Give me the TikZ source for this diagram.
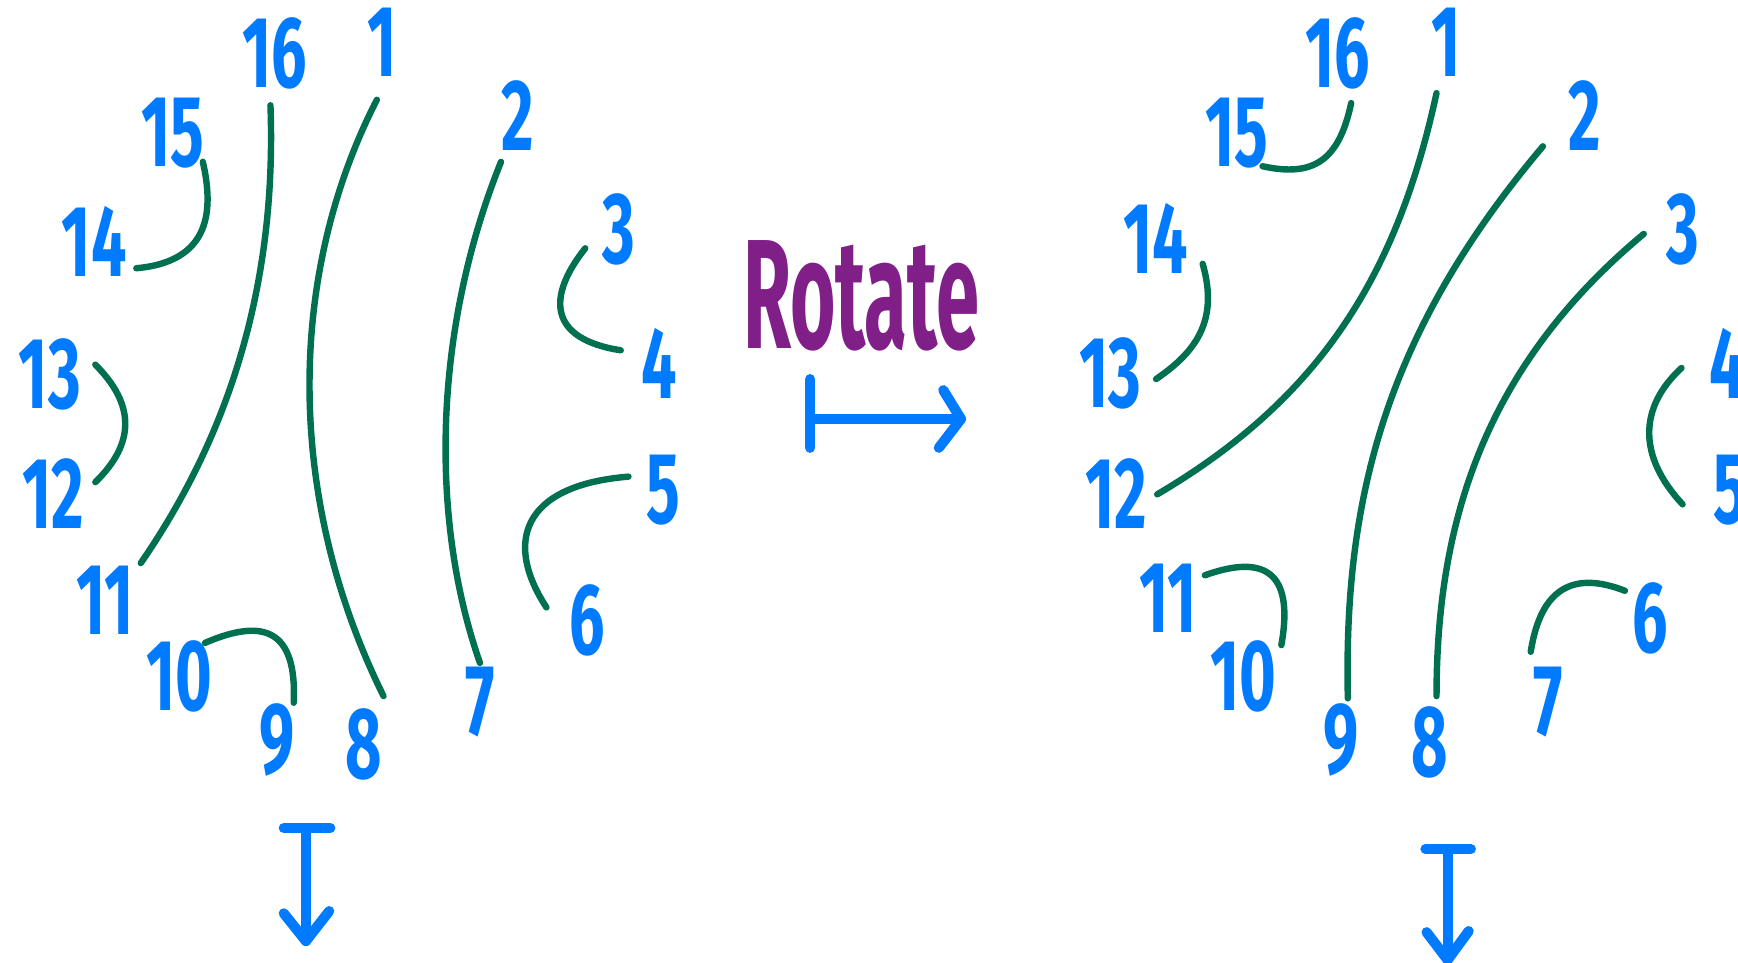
\documentclass[tikz,border=0pt]{standalone}
\usepackage{fontspec}
\usepackage{graphicx}
\setmainfont{Fira Sans}
\definecolor{numblue}{RGB}{0,122,255}
\definecolor{strand}{RGB}{0,112,80}
\definecolor{rotpurple}{RGB}{127,31,135}
\newcommand\lblfont{\fontsize{52}{52}\selectfont\bfseries}
\newcommand\hw[1]{\scalebox{0.62}[1]{#1}}
\tikzset{
  lbl/.style={text=numblue, font=\lblfont, inner sep=0pt},
  strandline/.style={draw=strand, line width=3.3pt, line cap=round},
  maparrow/.style={draw=numblue, line width=5.2pt, line cap=round, line join=round},
}
\begin{document}
\begin{tikzpicture}[x=0.02cm,y=-0.02cm]
\useasboundingbox (0,0) rectangle (1568,868);
% ---------------- left panel labels
\node[lbl] (L16) at (248,48) {\hw{16}};
\node[lbl] (L1) at (345,38) {\hw{1}};
\node[lbl] (L2) at (467,104) {\hw{2}};
\node[lbl] (L15) at (156,120) {\hw{15}};
\node[lbl] (L14) at (85,218) {\hw{14}};
\node[lbl] (L3) at (558,207) {\hw{3}};
\node[lbl] (L13) at (45,338) {\hw{13}};
\node[lbl] (L4) at (595,328) {\hw{4}};
\node[lbl] (L12) at (48,445) {\hw{12}};
\node[lbl] (L5) at (598,442) {\hw{5}};
\node[lbl] (L11) at (95,542) {\hw{11}};
\node[lbl] (L6) at (530,560) {\hw{6}};
\node[lbl] (L10) at (162,610) {\hw{10}};
\node[lbl] (L9) at (250,668) {\hw{9}};
\node[lbl] (L8) at (328,672) {\hw{8}};
\node[lbl] (L7) at (433,633) {\hw{7}};
% ---------------- left panel strand ends
\coordinate (a15) at (183,146); \coordinate (a14) at (123,242);
\coordinate (a16) at (244,95);  \coordinate (a11) at (127,508);
\coordinate (a1) at (340,90);   \coordinate (a8) at (346,628);
\coordinate (a2) at (452,146);  \coordinate (a7) at (433,598);
\coordinate (a3) at (528,224);  \coordinate (a4) at (560,316);
\coordinate (a13) at (86,329);  \coordinate (a12) at (86,435);
\coordinate (a5) at (567,430);  \coordinate (a6) at (493,548);
\coordinate (a10) at (185,580); \coordinate (a9) at (265,634);
\draw[strandline] (a15) .. controls (193,190) and (190,236) .. (a14);
\draw[strandline] (a16) .. controls (250,260) and (205,395) .. (a11);
\draw[strandline] (a1) .. controls (258,250) and (258,450) .. (a8);
\draw[strandline] (a2) .. controls (390,300) and (388,470) .. (a7);
\draw[strandline] (a3) .. controls (493,268) and (495,306) .. (a4);
\draw[strandline] (a13) .. controls (122,365) and (122,400) .. (a12);
\draw[strandline] (a5) .. controls (470,438) and (455,490) .. (a6);
\draw[strandline] (a10) .. controls (238,557) and (268,568) .. (a9);
% bottom-left map arrow
\coordinate (dbarL) at (256,747); \coordinate (dbarR) at (298,747);
\coordinate (dtop) at (276,747);  \coordinate (dtip) at (276,849);
\draw[maparrow] (dbarL) -- (dbarR);
\draw[maparrow] (dtop) -- (dtip);
\draw[maparrow] (256,824) -- (dtip) -- (297,822);
% ---------------- Rotate
\node[text=rotpurple, font=\fontsize{80}{80}\selectfont\bfseries, inner sep=0pt] (rot) at (777,267) {\scalebox{0.5}[1]{Rotate}};
\coordinate (rbarT) at (731,342); \coordinate (rbarB) at (731,404);
\coordinate (rstart) at (731,378); \coordinate (rtip) at (867,378);
\draw[maparrow] (rbarT) -- (rbarB);
\draw[maparrow] (rstart) -- (rtip);
\draw[maparrow] (851,352) -- (rtip) -- (847,404);
% ---------------- right panel labels
\node[lbl] (R16) at (1207,48) {\hw{16}};
\node[lbl] (R1) at (1305,38) {\hw{1}};
\node[lbl] (R2) at (1430,104) {\hw{2}};
\node[lbl] (R15) at (1116,120) {\hw{15}};
\node[lbl] (R3) at (1518,207) {\hw{3}};
\node[lbl] (R14) at (1043,215) {\hw{14}};
\node[lbl] (R13) at (1002,337) {\hw{13}};
\node[lbl] (R4) at (1558,328) {\hw{4}};
\node[lbl] (R12) at (1007,445) {\hw{12}};
\node[lbl] (R5) at (1561,442) {\hw{5}};
\node[lbl] (R11) at (1054,540) {\hw{11}};
\node[lbl] (R6) at (1489,558) {\hw{6}};
\node[lbl] (R10) at (1122,610) {\hw{10}};
\node[lbl] (R7) at (1397,633) {\hw{7}};
\node[lbl] (R9) at (1210,668) {\hw{9}};
\node[lbl] (R8) at (1290,670) {\hw{8}};
% ---------------- right panel strand ends
\coordinate (b16) at (1219,93);  \coordinate (b15) at (1139,150);
\coordinate (b1) at (1296,84);   \coordinate (b12) at (1044,446);
\coordinate (b2) at (1392,132);  \coordinate (b9) at (1216,630);
\coordinate (b3) at (1483,211);  \coordinate (b8) at (1296,628);
\coordinate (b14) at (1085,238); \coordinate (b13) at (1043,342);
\coordinate (b4) at (1517,332);  \coordinate (b5) at (1518,455);
\coordinate (b11) at (1087,519); \coordinate (b10) at (1156,582);
\coordinate (b7) at (1381,588);  \coordinate (b6) at (1466,533);
\draw[strandline] (b16) .. controls (1208,145) and (1185,160) .. (b15);
\draw[strandline] (b1) .. controls (1260,250) and (1190,360) .. (b12);
\draw[strandline] (b2) .. controls (1250,300) and (1212,450) .. (b9);
\draw[strandline] (b3) .. controls (1340,330) and (1296,470) .. (b8);
\draw[strandline] (b14) .. controls (1100,290) and (1078,318) .. (b13);
\draw[strandline] (b4) .. controls (1478,368) and (1478,412) .. (b5);
\draw[strandline] (b11) .. controls (1140,500) and (1168,515) .. (b10);
\draw[strandline] (b7) .. controls (1390,530) and (1420,515) .. (b6);
% bottom-right map arrow
\coordinate (ebarL) at (1286,766); \coordinate (ebarR) at (1327,766);
\coordinate (etop) at (1306,766);  \coordinate (etip) at (1306,866);
\draw[maparrow] (ebarL) -- (ebarR);
\draw[maparrow] (etop) -- (etip);
\draw[maparrow] (1287,841) -- (etip) -- (1325,840);
\end{tikzpicture}
\end{document}
